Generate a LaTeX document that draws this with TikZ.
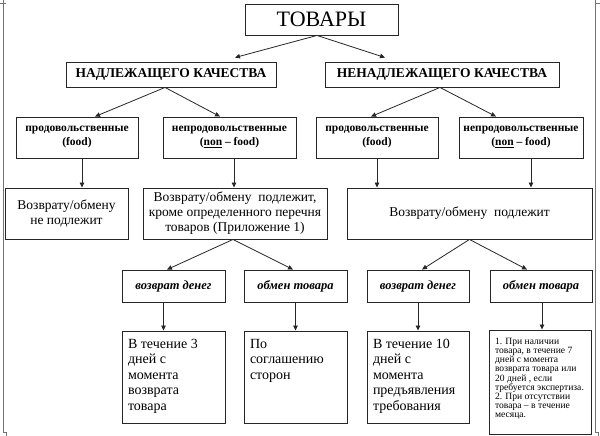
\documentclass[tikz,border=0pt]{standalone}
\usepackage{fontspec}
\setmainfont{Liberation Serif}[BoldFont={Liberation Serif Bold},ItalicFont={Liberation Serif Italic},BoldItalicFont={Liberation Serif Bold Italic}]
\usetikzlibrary{arrows.meta}
\begin{document}
\begin{tikzpicture}[x=1pt,y=-1pt,
  box/.style={draw=black!85, line width=0.9pt, inner sep=0pt, align=center},
  lvltwo/.style={box, minimum height=25pt, font=\bfseries\fontsize{13.5}{14}\selectfont},
  lvlthree/.style={box, minimum height=41pt, font=\bfseries\fontsize{11.5}{14}\selectfont},
  plainbox/.style={box, minimum height=51pt, font=\fontsize{13.5}{15}\selectfont},
  waybox/.style={box, minimum width=103pt, minimum height=32pt, font=\bfseries\itshape\fontsize{12.5}{14}\selectfont},
  termbox/.style={draw=black!85, line width=0.9pt, inner xsep=6pt, inner ysep=8pt, font=\fontsize{14}{15.5}\selectfont},
  arr/.style={-{Triangle[length=5pt,width=4.5pt]}, line width=0.8pt, draw=black!85},
  pageframe/.style={draw=black!55, line width=0.8pt}]
\useasboundingbox (0,0) rectangle (600,436);
% page frame
\draw[pageframe] (3,0) -- (3,432) -- (6,432) -- (6,436);
\draw[pageframe] (0,3) -- (6,3);
\draw[pageframe] (595,0) -- (595,432) -- (598,432) -- (598,436);
\draw[pageframe] (595,3) -- (600,3);
% level 1
\node[box, minimum width=153pt, minimum height=31pt, font=\fontsize{22}{24}\selectfont] (tov) at (321.5,19.5) {ТОВАРЫ};
% level 2
\node[lvltwo, minimum width=210pt] (nad) at (171,74.5) {НАДЛЕЖАЩЕГО КАЧЕСТВА};
\node[lvltwo, minimum width=234pt] (nen) at (442,74.5) {НЕНАДЛЕЖАЩЕГО КАЧЕСТВА};
% level 3
\node[lvlthree, minimum width=122pt] (fa) at (77,137.5) {продовольственные\\(food)};
\node[lvlthree, minimum width=133pt] (na) at (229.5,137.5) {непродовольственные\\(\underline{non} – food)};
\node[lvlthree, minimum width=122pt] (fb) at (377,137.5) {продовольственные\\(food)};
\node[lvlthree, minimum width=124pt] (nb) at (521,137.5) {непродовольственные\\(\underline{non} – food)};
% level 4
\node[plainbox, minimum width=123pt] (ra) at (66.5,213.5) {Возврату/обмену\\не подлежит};
\node[plainbox, minimum width=184pt] (rb) at (235,213.5) {Возврату/обмену\ \ подлежит,\\кроме определенного перечня\\товаров (Приложение 1)};
\node[plainbox, minimum width=245pt] (rc) at (469.5,213.5) {Возврату/обмену\ \ подлежит};
% level 5
\node[waybox] (wa) at (173.5,286) {возврат денег};
\node[waybox] (wb) at (295.5,286) {обмен товара};
\node[waybox, minimum width=102pt] (wc) at (418,286) {возврат денег};
\node[waybox, minimum width=102pt] (wd) at (541,286) {обмен товара};
% level 6
\node[termbox] (ta) at (173.5,377) {\parbox[c][76pt][t]{91pt}{\raggedright В течение 3\\дней с\\момента\\возврата\\товара}};
\node[termbox] (tb) at (295.5,377) {\parbox[c][76pt][t]{91pt}{\raggedright По\\соглашению\\сторон}};
\node[termbox] (tc) at (418,377) {\parbox[c][76pt][t]{90pt}{\raggedright В течение 10\\дней с\\момента\\предъявления\\требования}};
\node[termbox, font=\fontsize{9.6}{9.2}\selectfont] (td) at (540,382) {\parbox[c][88pt][t]{90pt}{\raggedright 1. При наличии\\товара, в течение 7\\дней с момента\\возврата товара или\\20 дней , если\\требуется экспертиза.\\2. При отсутствии\\товара – в течение\\месяца.}};
% connectors level 1 -> 2
\draw[arr] ([xshift=-4.5pt]tov.south) -- ([xshift=64pt,yshift=4pt]nad.north);
\draw[arr] ([xshift=-4.5pt]tov.south) -- ([xshift=-57pt,yshift=4pt]nen.north);
% level 2 -> 3
\draw[arr] ([xshift=-6pt]nad.south) -- ([xshift=18pt]fa.north);
\draw[arr] ([xshift=-6pt]nad.south) -- ([xshift=-9.5pt]na.north);
\draw[arr] ([xshift=-2pt]nen.south) -- ([xshift=-6pt]fb.north);
\draw[arr] ([xshift=-2pt]nen.south) -- ([xshift=-25pt]nb.north);
% level 3 -> 4
\coordinate (sfa) at ([xshift=5pt]fa.south);
\coordinate (sna) at ([xshift=4.5pt]na.south);
\coordinate (sfb) at (fb.south);
\coordinate (snb) at ([xshift=10pt]nb.south);
\draw[arr] (sfa) -- (sfa |- ra.north);
\draw[arr] (sna) -- (sna |- rb.north);
\draw[arr] (sfb) -- (sfb |- rc.north);
\draw[arr] (snb) -- (snb |- rc.north);
% level 4 -> 5
\draw[arr] ([xshift=-2pt]rb.south) -- ([xshift=-6.5pt]wa.north);
\draw[arr] ([xshift=-2pt]rb.south) -- ([xshift=-2.5pt]wb.north);
\draw[arr] (rc.south) -- ([xshift=4pt]wc.north);
\draw[arr] (rc.south) -- ([xshift=-14pt]wd.north);
% level 5 -> 6
\coordinate (swa) at ([xshift=-10pt]wa.south);
\coordinate (swb) at (wb.south);
\coordinate (swc) at (wc.south);
\coordinate (swd) at ([xshift=1pt]wd.south);
\draw[arr] (swa) -- (swa |- ta.north);
\draw[arr] (swb) -- (swb |- tb.north);
\draw[arr] (swc) -- (swc |- tc.north);
\draw[arr] (swd) -- (swd |- td.north);
\end{tikzpicture}
\end{document}
